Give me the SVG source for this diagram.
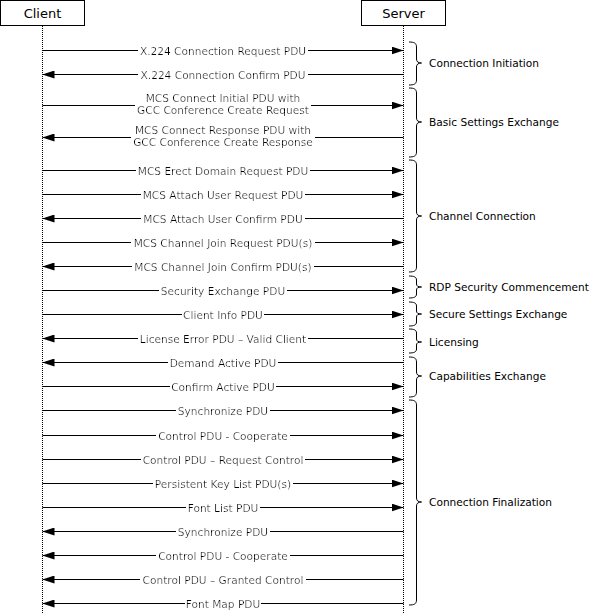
<svg xmlns="http://www.w3.org/2000/svg" width="591" height="614" viewBox="0 0 591 614">
<style>
.box{fill:#fff;stroke:#000;stroke-width:1}
.hdr{font-family:"DejaVu Sans",Verdana,sans-serif;font-size:13px;text-anchor:middle;fill:#000}
.life{stroke:#000;stroke-width:1;stroke-dasharray:1,1;fill:none}
.msg{stroke:#000;stroke-width:1;fill:none;marker-end:url(#ah)}
.lbl{font-family:"DejaVu Sans",Verdana,sans-serif;font-size:10.6px;text-anchor:middle;fill:#000;filter:url(#bg)}
.lbl2{font-family:"DejaVu Sans",Verdana,sans-serif;font-size:10.6px;text-anchor:middle;fill:#000}
.brace{stroke:#000;stroke-width:1;fill:none}
.grp{font-family:"DejaVu Sans",Verdana,sans-serif;font-size:10.6px;fill:#000}
</style>
<defs>
<marker id="ah" markerUnits="userSpaceOnUse" markerWidth="12" markerHeight="8" refX="12" refY="4" orient="auto">
<path d="M0,0 L12,4 L0,8 z" fill="#000"/>
</marker>
<filter id="bg" x="-0.01" y="0" width="1.02" height="1">
<feFlood flood-color="#fff"/>
<feMerge><feMergeNode/><feMergeNode in="SourceGraphic"/></feMerge>
</filter>
</defs>

<g id="client">
<rect class="box" x="0.5" y="0.5" width="84" height="25"/>
<text class="hdr" x="42.5" y="18.3">Client</text>
<line class="life" x1="42.5" y1="26" x2="42.5" y2="614"/>
</g>
<g id="server">
<rect class="box" x="361.5" y="0.5" width="84" height="25"/>
<text class="hdr" x="403.5" y="18.3">Server</text>
<line class="life" x1="403.5" y1="26" x2="403.5" y2="614"/>
</g>

<g id="connectors">
<line class="msg" x1="42.5" y1="50.5" x2="403.5" y2="50.5"/>
<text class="lbl" x="223" y="54.5">X.224 Connection Request PDU</text>
<line class="msg" x1="403.5" y1="74.5" x2="42.5" y2="74.5"/>
<text class="lbl" x="223" y="78.5">X.224 Connection Confirm PDU</text>
<line class="msg" x1="42.5" y1="105.5" x2="403.5" y2="105.5"/>
<g filter="url(#bg)">
<text class="lbl2" x="223" y="101.8">MCS Connect Initial PDU with</text>
<text class="lbl2" x="223" y="113.5">GCC Conference Create Request</text>
</g>
<line class="msg" x1="403.5" y1="137.5" x2="42.5" y2="137.5"/>
<g filter="url(#bg)">
<text class="lbl2" x="223" y="134.2">MCS Connect Response PDU with</text>
<text class="lbl2" x="223" y="146">GCC Conference Create Response</text>
</g>
<line class="msg" x1="42.5" y1="170.5" x2="403.5" y2="170.5"/>
<text class="lbl" x="223" y="174.5">MCS Erect Domain Request PDU</text>
<line class="msg" x1="42.5" y1="194.5" x2="403.5" y2="194.5"/>
<text class="lbl" x="223" y="198.5">MCS Attach User Request PDU</text>
<line class="msg" x1="403.5" y1="218.5" x2="42.5" y2="218.5"/>
<text class="lbl" x="223" y="222.5">MCS Attach User Confirm PDU</text>
<line class="msg" x1="42.5" y1="242.5" x2="403.5" y2="242.5"/>
<text class="lbl" x="223" y="246.5">MCS Channel Join Request PDU(s)</text>
<line class="msg" x1="403.5" y1="266.5" x2="42.5" y2="266.5"/>
<text class="lbl" x="223" y="270.5">MCS Channel Join Confirm PDU(s)</text>
<line class="msg" x1="42.5" y1="290.5" x2="403.5" y2="290.5"/>
<text class="lbl" x="223" y="294.5">Security Exchange PDU</text>
<line class="msg" x1="42.5" y1="314.5" x2="403.5" y2="314.5"/>
<text class="lbl" x="223" y="318.5">Client Info PDU</text>
<line class="msg" x1="403.5" y1="338.5" x2="42.5" y2="338.5"/>
<text class="lbl" x="223" y="342.5">License Error PDU – Valid Client</text>
<line class="msg" x1="403.5" y1="362.5" x2="42.5" y2="362.5"/>
<text class="lbl" x="223" y="366.5">Demand Active PDU</text>
<line class="msg" x1="42.5" y1="386.5" x2="403.5" y2="386.5"/>
<text class="lbl" x="223" y="390.5">Confirm Active PDU</text>
<line class="msg" x1="42.5" y1="410.5" x2="403.5" y2="410.5"/>
<text class="lbl" x="223" y="414.5">Synchronize PDU</text>
<line class="msg" x1="42.5" y1="435.5" x2="403.5" y2="435.5"/>
<text class="lbl" x="223" y="439.5">Control PDU - Cooperate</text>
<line class="msg" x1="42.5" y1="459.5" x2="403.5" y2="459.5"/>
<text class="lbl" x="223" y="463.5">Control PDU – Request Control</text>
<line class="msg" x1="42.5" y1="483.5" x2="403.5" y2="483.5"/>
<text class="lbl" x="223" y="487.5">Persistent Key List PDU(s)</text>
<line class="msg" x1="42.5" y1="507.5" x2="403.5" y2="507.5"/>
<text class="lbl" x="223" y="511.5">Font List PDU</text>
<line class="msg" x1="403.5" y1="531.5" x2="42.5" y2="531.5"/>
<text class="lbl" x="223" y="535.5">Synchronize PDU</text>
<line class="msg" x1="403.5" y1="555.5" x2="42.5" y2="555.5"/>
<text class="lbl" x="223" y="559.5">Control PDU - Cooperate</text>
<line class="msg" x1="403.5" y1="579.5" x2="42.5" y2="579.5"/>
<text class="lbl" x="223" y="583.5">Control PDU – Granted Control</text>
<line class="msg" x1="403.5" y1="603.5" x2="42.5" y2="603.5"/>
<text class="lbl" x="223" y="607.5">Font Map PDU</text>
</g>

<g id="phase-connection-initiation">
<path class="brace" d="M409,42 C414,42 416.5,43 416.5,47 L416.5,59 C416.5,61.5 418,63 421.5,63 C418,63 416.5,64.5 416.5,67 L416.5,80 C416.5,84 414,85 409,85"/>
<text class="grp" x="429" y="67">Connection Initiation</text>
</g>
<g id="phase-basic-settings">
<path class="brace" d="M409,88 C414,88 416.5,89 416.5,93 L416.5,118 C416.5,120.5 418,122 421.5,122 C418,122 416.5,123.5 416.5,126 L416.5,152 C416.5,156 414,157 409,157"/>
<text class="grp" x="429" y="126">Basic Settings Exchange</text>
</g>
<g id="phase-channel-connection">
<path class="brace" d="M409,160 C414,160 416.5,161 416.5,165 L416.5,212 C416.5,214.5 418,216 421.5,216 C418,216 416.5,217.5 416.5,220 L416.5,267 C416.5,271 414,272 409,272"/>
<text class="grp" x="429" y="220">Channel Connection</text>
</g>
<g id="phase-rdp-security">
<path class="brace" d="M409,276 C414,276 416.5,277 416.5,280 L416.5,284 C416.5,286 418,287 421.5,287 C418,287 416.5,288 416.5,290 L416.5,294 C416.5,297 414,298 409,298"/>
<text class="grp" x="429" y="291">RDP Security Commencement</text>
</g>
<g id="phase-secure-settings">
<path class="brace" d="M409,302 C414,302 416.5,303 416.5,306 L416.5,311 C416.5,313 418,314 421.5,314 C418,314 416.5,315 416.5,317 L416.5,322 C416.5,325 414,326 409,326"/>
<text class="grp" x="429" y="318">Secure Settings Exchange</text>
</g>
<g id="phase-licensing">
<path class="brace" d="M409,329 C414,329 416.5,330 416.5,333 L416.5,339 C416.5,341 418,342 421.5,342 C418,342 416.5,343 416.5,345 L416.5,349 C416.5,352 414,353 409,353"/>
<text class="grp" x="429" y="346">Licensing</text>
</g>
<g id="phase-capabilities">
<path class="brace" d="M409,357 C414,357 416.5,358 416.5,362 L416.5,372 C416.5,374.5 418,376 421.5,376 C418,376 416.5,377.5 416.5,380 L416.5,392 C416.5,396 414,397 409,397"/>
<text class="grp" x="429" y="380">Capabilities Exchange</text>
</g>
<g id="phase-finalization">
<path class="brace" d="M409,400 C414,400 416.5,401 416.5,405 L416.5,498 C416.5,500.5 418,502 421.5,502 C418,502 416.5,503.5 416.5,506 L416.5,600 C416.5,604 414,605 409,605"/>
<text class="grp" x="429" y="506">Connection Finalization</text>
</g>
</svg>
